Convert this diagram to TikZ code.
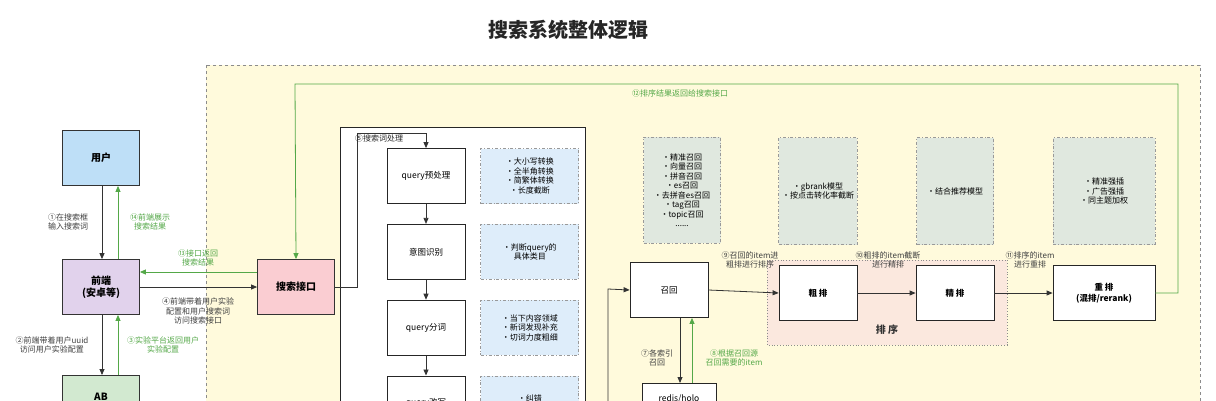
\documentclass[tikz,border=0pt]{standalone}
\usepackage{fontspec}
\setmainfont{Noto Sans CJK SC}
\usetikzlibrary{positioning,arrows.meta}
\definecolor{gr}{RGB}{84,168,72}
\definecolor{ylw}{RGB}{255,250,220}
\definecolor{usr}{RGB}{190,223,247}
\definecolor{fnt}{RGB}{225,210,236}
\definecolor{abg}{RGB}{210,233,208}
\definecolor{apip}{RGB}{250,205,210}
\definecolor{nblue}{RGB}{222,237,250}
\definecolor{ngrey}{RGB}{224,232,223}
\definecolor{spink}{RGB}{251,232,222}
\tikzset{main node/.style={draw=black!80,thick,minimum width=77pt,minimum height=55pt,align=center,font=\fontsize{10}{12}\selectfont\bfseries},
  step node/.style={draw=black!85,thick,fill=white,minimum width=78pt,minimum height=55pt,align=center,font=\fontsize{8.5}{10.5}\selectfont},
  note node/.style={draw=black!40,thick,dash dot,minimum width=98pt,minimum height=55pt,align=center,fill=nblue,font=\fontsize{8}{9.5}\selectfont},
  grey note/.style={draw=black!40,thick,dash dot,fill=ngrey,align=center,font=\fontsize{8}{9.5}\selectfont},
  lbl/.style={align=center,font=\fontsize{8}{9.5}\selectfont,text=black!75},
  glbl/.style={align=center,font=\fontsize{8}{9.5}\selectfont,text=gr},
  arr/.style={-{Triangle[length=6pt,width=5pt]},thick,draw=black!80},
  garr/.style={-{Triangle[length=6pt,width=5pt]},thick,draw=gr}}
\begin{document}
\begin{tikzpicture}[x=1pt,y=-1pt]
\useasboundingbox (0,0) rectangle (1216,400);
\fill[white] (0,0) rectangle (1216,400);
\node[font=\fontsize{20}{22}\selectfont\bfseries,text=black!85] (title) at (568,30) {搜索系统整体逻辑};
\draw[black!45,thick,dashed,fill=ylw] (206,65) rectangle (1200,420);

% left column
\node[main node,fill=usr] (user) at (101,158) {用户};
\node[main node,fill=fnt] (front) at (101,287) {前端\\(安卓等)};
\node[main node,fill=abg,anchor=north] (ab) at (101,375) {AB\\ };
\node[main node,fill=apip] (api) at (296,287) {搜索接口};

\draw[arr] (user.south -| 102,0) -- (front.north -| 102,0);
\draw[garr] (front.north -| 118,0) -- (user.south -| 118,0);
\draw[arr] (front.south -| 102,0) -- (ab.north -| 102,0);
\draw[garr] (ab.north -| 118,0) -- (front.south -| 118,0);
\draw[garr] (api.west |- 0,272) -- (front.east |- 0,272);
\draw[arr] (front.east |- 0,287) -- (api.west |- 0,287);
\node[lbl] at (68,222) {①在搜索框\\输入搜索词};
\node[glbl] at (150,222) {⑭前端展示\\搜索结果};
\node[glbl] at (198,258) {⑬接口返回\\搜索结果};
\node[lbl] at (198,311) {④前端带着用户实验\\配置和用户搜索词\\访问搜索接口};
\node[lbl] at (52,345) {②前端带着用户uuid\\访问用户实验配置};
\node[glbl] at (163,345) {③实验平台返回用户\\实验配置};

% query processing
\draw[black!85,thick,fill=white] (340,127) rectangle (585,420);
\node[step node] (pre) at (426,176) {query预处理};
\node[step node,below=20pt of pre] (intent) {意图识别};
\node[step node,below=20pt of intent] (seg) {query分词};
\node[step node,below=20pt of seg] (rewrite) {query改写};
\draw[arr] (pre) -- (intent);
\draw[arr] (intent) -- (seg);
\draw[arr] (seg) -- (rewrite);
\node[note node,right=15pt of pre] (n1) {·大小写转换\\·全半角转换\\·简繁体转换\\·长度截断};
\node[note node,right=15pt of intent] (n2) {·判断query的\\具体类目};
\node[note node,right=15pt of seg] (n3) {·当下内容领域\\·新词发现补充\\·切词力度粗细};
\node[note node,right=15pt of rewrite] (n4) {·纠错\\·扩展};
\draw[arr] (api.east) -- (357,287) -- (357,133) -- (426,133) -- (pre.north);
\node[lbl,text=black!85] at (379,138) {⑤搜索词处理};

% recall and ranking
\fill[spink] (767,260) rectangle (1007,345);
\draw[black!45,thick,dotted] (767,260) rectangle (1007,345);
\node[font=\fontsize{10}{12}\selectfont\bfseries,text=black!80] (sort) at (887,330) {排 序};
\node[step node] (recall) at (669,290) {召回};
\node[step node] (coarse) at (818,293) {\bfseries 粗 排};
\node[step node] (fine) at (955,293) {\bfseries 精 排};
\node[step node,minimum width=102pt] (rerank) at (1104,293) {\bfseries 重 排\\\bfseries (混排/rerank)};
\node[step node,minimum width=74pt,minimum height=40pt,anchor=north] (redis) at (679,383) {redis/holo\\ };
\draw[arr] (608,420) -- (608,289) -- (recall.west);
\draw[arr] (recall.east) -- (coarse.west);
\draw[arr] (coarse) -- (fine);
\draw[arr] (fine) -- (rerank);
\draw[arr] (recall.south -| 680,0) -- (redis.north -| 680,0);
\draw[garr] (redis.north -| 692,0) -- (recall.south -| 692,0);
\draw[garr] (rerank.east) -- (1178,293) -- (1178,84) -- (295,84) -- (api.north);
\node[glbl] at (680,93) {⑫排序结果返回给搜索接口};
\node[lbl] at (657,358) {⑦各索引\\召回};
\node[glbl] at (734,358) {⑧根据召回源\\召回需要的item};
\node[lbl] at (750,260) {⑨召回的item进\\粗排进行排序};
\node[lbl] at (888,260) {⑩粗排的item截断\\进行精排};
\node[lbl] at (1030,260) {⑪排序的item\\进行重排};
\node[grey note,minimum width=77pt,minimum height=106pt] (g1) at (682,190) {·精准召回\\·向量召回\\·拼音召回\\·es召回\\·去拼音es召回\\·tag召回\\·topic召回\\......};
\node[grey note,minimum width=77pt,minimum height=107pt] (g2) at (818,191) {·gbrank模型\\·按点击转化率截断};
\node[grey note,minimum width=77pt,minimum height=107pt] (g3) at (955,191) {·结合推荐模型};
\node[grey note,minimum width=102pt,minimum height=107pt] (g4) at (1104,191) {·精准强插\\·广告强插\\·同主题加权};
\end{tikzpicture}
\end{document}
